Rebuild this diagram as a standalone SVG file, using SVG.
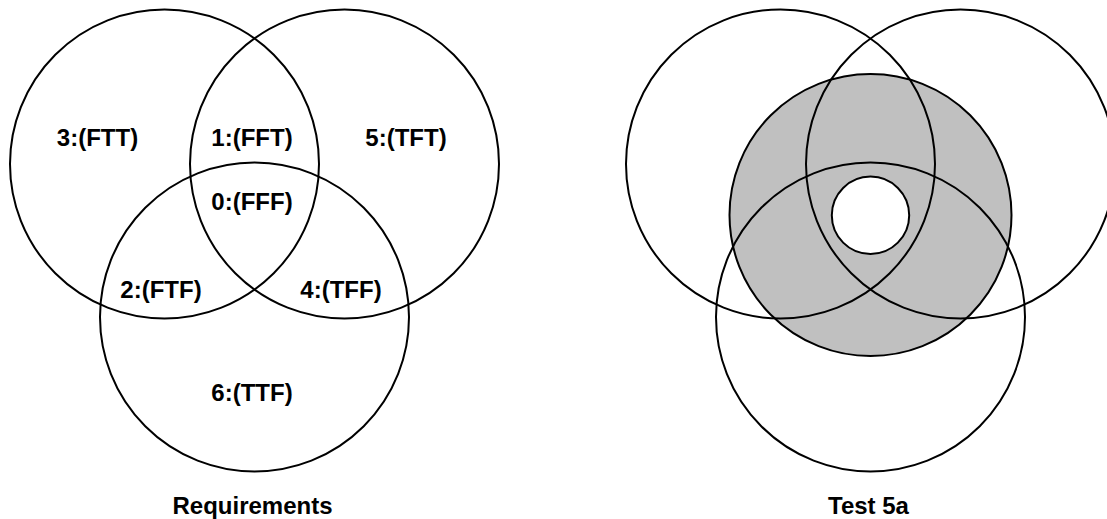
<svg xmlns="http://www.w3.org/2000/svg" width="1107" height="519" viewBox="0 0 1107 519">
<style>
.c{fill:none;stroke:#000;stroke-width:2}
.t{font-family:"Liberation Sans",Arial,sans-serif;font-weight:bold;font-size:24px;text-anchor:middle;fill:#000}
</style>
<rect width="1107" height="519" fill="#fff"/>
<g id="requirements">
<g id="circle-a"><circle class="c" cx="164.5" cy="164" r="154.5"/></g>
<g id="circle-b"><circle class="c" cx="344.5" cy="164" r="154.5"/></g>
<g id="circle-c"><circle class="c" cx="254.5" cy="317" r="154.5"/></g>
<text class="t" x="97.5" y="146">3:(FTT)</text>
<text class="t" x="252" y="146">1:(FFT)</text>
<text class="t" x="406" y="146">5:(TFT)</text>
<text class="t" x="252" y="210">0:(FFF)</text>
<text class="t" x="161" y="298">2:(FTF)</text>
<text class="t" x="341" y="298">4:(TFF)</text>
<text class="t" x="252" y="401">6:(TTF)</text>
<text class="t" x="252.5" y="514">Requirements</text>
</g>
<g id="test5a">
<g id="ring"><circle cx="870.5" cy="215" r="141" fill="#c0c0c0" stroke="#000" stroke-width="2"/><circle cx="870.5" cy="215.3" r="38.7" fill="#fff" stroke="#000" stroke-width="2"/></g>
<g id="circle-a2"><circle class="c" cx="780.5" cy="164" r="154.5"/></g>
<g id="circle-b2"><circle class="c" cx="960.5" cy="164" r="154.5"/></g>
<g id="circle-c2"><circle class="c" cx="870.5" cy="317" r="154.5"/></g>
<text class="t" x="868.5" y="514">Test 5a</text>
</g>
<g id="connectors"/>
</svg>
